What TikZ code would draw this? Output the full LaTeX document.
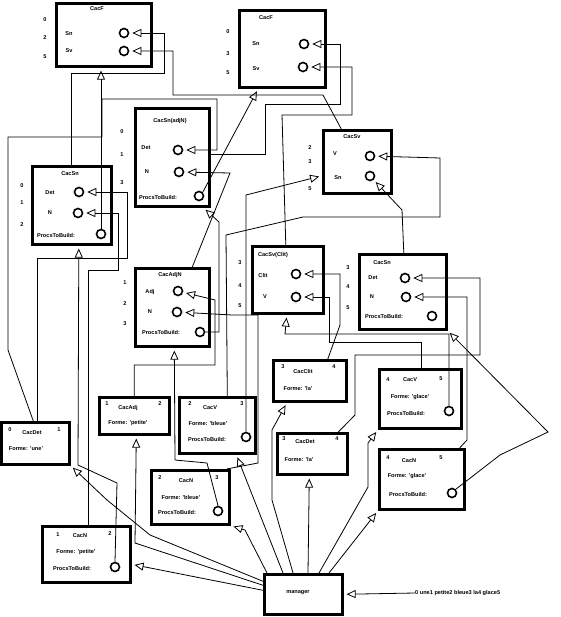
\documentclass[tikz,border=0pt]{standalone}
\usepackage{fontspec}
\setmainfont{Liberation Sans}
\usetikzlibrary{arrows.meta}
\newcommand{\cacfont}{\fontsize{5.6}{7}\selectfont\bfseries}
\tikzset{
  cacbox/.style={draw, line width=2.6pt, anchor=north west, inner sep=0pt},
  slot/.style={circle, draw, line width=1.6pt, minimum size=9pt, inner sep=0pt},
  lbl/.style={font=\cacfont, inner sep=0pt},
  feed/.style={-{Triangle[open,length=9pt,width=8pt,line width=0.8pt]}, shorten >=3pt, line width=0.8pt}
}
\begin{document}
\begin{tikzpicture}[x=1pt,y=-1pt]
\useasboundingbox (0,0) rectangle (560,617);

% CacF, first reading
\node[cacbox, minimum width=95pt, minimum height=63pt] (cfa) at (55,2) {};
\node[lbl] (cfa-t) at (97,9) {CacF};
\node[lbl] (cfa-r0) at (45,20) {0};
\node[lbl] (cfa-r1) at (45,38) {2};
\node[lbl] (cfa-r2) at (45,57) {5};
\node[lbl] (cfa-l1) at (69,34) {Sn};
\node[lbl] (cfa-l2) at (69,51) {Sv};
\node[slot] (cfa-sn) at (124,33) {};
\node[slot] (cfa-sv) at (124,51) {};

% CacF, second reading
\node[cacbox, minimum width=86pt, minimum height=77pt] (cfb) at (238,9) {};
\node[lbl] (cfb-t) at (266,18) {CacF};
\node[lbl] (cfb-r0) at (228,32) {0};
\node[lbl] (cfb-r1) at (228,54) {3};
\node[lbl] (cfb-r2) at (228,73) {5};
\node[lbl] (cfb-l1) at (256,44) {Sn};
\node[lbl] (cfb-l2) at (256,69) {Sv};
\node[slot] (cfb-sn) at (304,44) {};
\node[slot] (cfb-sv) at (303,67) {};

% CacSn(adjN)
\node[cacbox, minimum width=74pt, minimum height=98pt] (csnadj) at (134,107) {};
\node[lbl] (csnadj-t) at (170,121) {CacSn(adjN)};
\node[lbl] (csnadj-r0) at (122,132) {0};
\node[lbl] (csnadj-r1) at (122,155) {1};
\node[lbl] (csnadj-r2) at (122,183) {3};
\node[lbl] (csnadj-l1) at (146,148) {Det};
\node[lbl] (csnadj-l2) at (147,172) {N};
\node[lbl] (csnadj-l3) at (158,197) {ProcsToBuild:};
\node[slot] (csnadj-det) at (178,150) {};
\node[slot] (csnadj-n) at (179,172) {};
\node[slot] (csnadj-ptb) at (199,196) {};

% CacSv
\node[cacbox, minimum width=68pt, minimum height=63pt] (csv) at (322,129) {};
\node[lbl] (csv-t) at (352,137) {CacSv};
\node[lbl] (csv-r0) at (310,148) {2};
\node[lbl] (csv-r1) at (310,162) {3};
\node[lbl] (csv-r2) at (310,189) {5};
\node[lbl] (csv-l1) at (335,154) {V};
\node[lbl] (csv-l2) at (338,178) {Sn};
\node[slot] (csv-v) at (370,156) {};
\node[slot] (csv-sn) at (370,176) {};

% CacSn, first reading
\node[cacbox, minimum width=79pt, minimum height=78pt] (csnl) at (31,165) {};
\node[lbl] (csnl-t) at (70,174) {CacSn};
\node[lbl] (csnl-r0) at (22,186) {0};
\node[lbl] (csnl-r1) at (22,203) {1};
\node[lbl] (csnl-r2) at (22,225) {2};
\node[lbl] (csnl-l1) at (50,193) {Det};
\node[lbl] (csnl-l2) at (50,213) {N};
\node[lbl] (csnl-l3) at (56,235) {ProcsToBuild:};
\node[slot] (csnl-det) at (79,192) {};
\node[slot] (csnl-n) at (78,213) {};
\node[slot] (csnl-ptb) at (101,234) {};

% CacAdjN
\node[cacbox, minimum width=74pt, minimum height=78pt] (cadjn) at (134,267) {};
\node[lbl] (cadjn-t) at (170,275) {CacAdjN};
\node[lbl] (cadjn-r0) at (125,283) {1};
\node[lbl] (cadjn-r1) at (125,304) {2};
\node[lbl] (cadjn-r2) at (125,324) {3};
\node[lbl] (cadjn-l1) at (150,292) {Adj};
\node[lbl] (cadjn-l2) at (150,312) {N};
\node[lbl] (cadjn-l3) at (161,332) {ProcsToBuild:};
\node[slot] (cadjn-adj) at (178,291) {};
\node[slot] (cadjn-n) at (177,312) {};
\node[slot] (cadjn-ptb) at (200,332) {};

% CacSv(Clit)
\node[cacbox, minimum width=71pt, minimum height=67pt] (csvclit) at (251,245) {};
\node[lbl] (csvclit-t) at (273,255) {CacSv(Clit)};
\node[lbl] (csvclit-r0) at (240,263) {3};
\node[lbl] (csvclit-r1) at (240,286) {4};
\node[lbl] (csvclit-r2) at (240,306) {5};
\node[lbl] (csvclit-l1) at (263,275) {Clit};
\node[lbl] (csvclit-l2) at (265,297) {V};
\node[slot] (csvclit-clit) at (296,274) {};
\node[slot] (csvclit-v) at (296,297) {};

% CacSn, second reading
\node[cacbox, minimum width=87pt, minimum height=75pt] (csnr) at (358,253) {};
\node[lbl] (csnr-t) at (382,263) {CacSn};
\node[lbl] (csnr-r0) at (348,268) {3};
\node[lbl] (csnr-r1) at (348,287) {4};
\node[lbl] (csnr-r2) at (348,308) {5};
\node[lbl] (csnr-l1) at (373,278) {Det};
\node[lbl] (csnr-l2) at (372,297) {N};
\node[lbl] (csnr-l3) at (384,316) {ProcsToBuild:};
\node[slot] (csnr-det) at (405,278) {};
\node[slot] (csnr-n) at (406,297) {};
\node[slot] (csnr-ptb) at (432,316) {};

% words
\node[cacbox, minimum width=68pt, minimum height=42pt] (cdetune) at (0,421) {};
\node[lbl] (cdetune-a) at (10,430) {0};
\node[lbl] (cdetune-t) at (32,433) {CacDet};
\node[lbl] (cdetune-b) at (59,430) {1};
\node[lbl] (cdetune-f) at (26,449) {Forme: 'une'};

\node[cacbox, minimum width=70pt, minimum height=37pt] (cadj) at (98,396) {};
\node[lbl] (cadj-a) at (107,404) {1};
\node[lbl] (cadj-t) at (128,408) {CacAdj};
\node[lbl] (cadj-b) at (160,404) {2};
\node[lbl] (cadj-f) at (128,423) {Forme: 'petite'};

\node[cacbox, minimum width=76pt, minimum height=56pt] (cvbleue) at (178,396) {};
\node[lbl] (cvbleue-a) at (190,404) {2};
\node[lbl] (cvbleue-t) at (210,408) {CacV};
\node[lbl] (cvbleue-b) at (242,404) {3};
\node[lbl] (cvbleue-f) at (208,423) {Forme: 'bleue'};
\node[lbl] (cvbleue-l) at (207,439) {ProcsToBuild:};
\node[slot] (cvbleue-ptb) at (246,437) {};

\node[cacbox, minimum width=78pt, minimum height=54pt] (cnbleue) at (150,469) {};
\node[lbl] (cnbleue-a) at (160,478) {2};
\node[lbl] (cnbleue-t) at (186,481) {CacN};
\node[lbl] (cnbleue-b) at (217,478) {3};
\node[lbl] (cnbleue-f) at (181,497) {Forme: 'bleue'};
\node[lbl] (cnbleue-l) at (177,512) {ProcsToBuild:};
\node[slot] (cnbleue-ptb) at (218,511) {};

\node[cacbox, minimum width=73pt, minimum height=41pt] (cclit) at (272,359) {};
\node[lbl] (cclit-a) at (283,367) {3};
\node[lbl] (cclit-t) at (303,371) {CacClit};
\node[lbl] (cclit-b) at (334,367) {4};
\node[lbl] (cclit-f) at (298,388) {Forme: 'la'};

\node[cacbox, minimum width=70pt, minimum height=41pt] (cdetla) at (276,432) {};
\node[lbl] (cdetla-a) at (284,439) {3};
\node[lbl] (cdetla-t) at (305,442) {CacDet};
\node[lbl] (cdetla-b) at (337,439) {4};
\node[lbl] (cdetla-f) at (299,459) {Forme: 'la'};

\node[cacbox, minimum width=82pt, minimum height=59pt] (cvglace) at (378,368) {};
\node[lbl] (cvglace-a) at (388,380) {4};
\node[lbl] (cvglace-t) at (410,380) {CacV};
\node[lbl] (cvglace-b) at (441,379) {5};
\node[lbl] (cvglace-f) at (410,397) {Forme: 'glace'};
\node[lbl] (cvglace-l) at (406,413) {ProcsToBuild:};
\node[slot] (cvglace-ptb) at (449,411) {};

\node[cacbox, minimum width=85pt, minimum height=60pt] (cnglace) at (378,448) {};
\node[lbl] (cnglace-a) at (388,458) {4};
\node[lbl] (cnglace-t) at (409,461) {CacN};
\node[lbl] (cnglace-b) at (441,458) {5};
\node[lbl] (cnglace-f) at (407,476) {Forme: 'glace'};
\node[lbl] (cnglace-l) at (408,494) {ProcsToBuild:};
\node[slot] (cnglace-ptb) at (452,493) {};

\node[cacbox, minimum width=88pt, minimum height=56pt] (cnpetite) at (41,525) {};
\node[lbl] (cnpetite-a) at (58,535) {1};
\node[lbl] (cnpetite-t) at (80,536) {CacN};
\node[lbl] (cnpetite-b) at (110,534) {2};
\node[lbl] (cnpetite-f) at (76,552) {Forme: 'petite'};
\node[lbl] (cnpetite-l) at (72,568) {ProcsToBuild:};
\node[slot] (cnpetite-ptb) at (115,567) {};

% manager and input
\node[cacbox, minimum width=78pt, minimum height=40pt] (mgr) at (263,573) {};
\node[lbl] (mgr-t) at (298,593) {manager};
\node[lbl, anchor=west] (sent) at (415,593) {0 une1 petite2 bleue3 la4 glace5};

% slots filled
\draw[feed] (csnl.north) |- (164,73) |- (cfa-sn);
\draw[feed] ([xshift=-16pt]csv.north) -- (323,95) -| (173,51) -- (cfa-sv);
\draw[feed] ([yshift=-47pt]csnadj.north east) -| (265,104) -| (340,44) -- (cfb-sn);
\draw[feed] ([xshift=-2pt]csvclit.north) -- (282,115) -| (352,67) -- (cfb-sv);
\draw[feed] ([xshift=-2pt]cdetune.north) -- (8,350) |- (102,137) |- (217,99) |- (csnadj-det);
\draw[feed] ([xshift=20pt]cadjn.north) -- (230,173) -- (csnadj-n);
\draw[feed] ([xshift=2pt]cdetune.north) |- (127,258) |- (csnl-det);
\draw[feed] ([xshift=2pt]cnpetite.north) |- (118,270) |- (csnl-n);
\draw[feed] (cadj.north) |- (215,365) -- (215,300) -- (cadjn-adj);
\draw[feed] ([xshift=-4pt]cnbleue.north east) -- (258,463) |- (232,315) -- (cadjn-n);
\draw[feed] ([xshift=10pt]cvbleue.north) -- (226,235) -- (303,217) -| (440,158) -- (csv-v);
\draw[feed] ([xshift=1pt]csnr.north) -- (402,210) -- (csv-sn);
\draw[feed] ([xshift=18pt]cclit.north) -- (340,325) |- (csvclit-clit);
\draw[feed] ([xshift=1pt]cvglace.north) |- (329,342) |- (csvclit-v);
\draw[feed] ([xshift=26pt]cdetla.north) -- (355,415) |- (480,355) |- (csnr-det);
\draw[feed] ([xshift=-6pt]cnglace.north east) -- (467,440) |- (csnr-n);

% procs to build
\draw[feed] (csnl-ptb.north) -- (csnl-ptb.north |- cfa.south);
\draw[feed] (csnadj-ptb.north east) -- ([xshift=-24pt]cfb.south);
\draw[feed] (cadjn-ptb.east) -| (219,222) -- ([xshift=31pt]csnadj.south);
\draw[feed] (cnbleue-ptb.north) -- (207,463) -- (175,460) -- ([xshift=2pt]cadjn.south);
\draw[feed] (cnpetite-ptb.north) -- (117,483) -- (78,465) -- ([xshift=7pt]csnl.south);
\draw[feed] (cvbleue-ptb.north) -- (246,195) -- ([yshift=-14pt]csv.west);
\draw[feed] (cvglace-ptb.north) |- (285,334) -- ([xshift=-1pt]csvclit.south);
\draw[feed] (cnglace-ptb.north east) -- (500,455) -- (548,432) -- (csnr.south east);

% manager
\draw[feed] ([yshift=13pt]mgr.west) -- (150,535) -- (107,500) -- (cdetune.south east);
\draw[feed] ([yshift=9pt]mgr.west) -- (135,543) -- ([xshift=2pt]cadj.south);
\draw[feed] ([yshift=4pt]mgr.west) -- ([yshift=-10pt]cnpetite.east);
\draw[feed] ([xshift=4pt]mgr.north west) -- (245,530) -- (cnbleue.south east);
\draw[feed] ([xshift=20pt]mgr.north west) -- ([xshift=19pt]cvbleue.south);
\draw[feed] ([xshift=30pt]mgr.north west) -- (272,500) -- (272,430) -- ([xshift=15pt]cclit.south west);
\draw[feed] ([xshift=45pt]mgr.north west) -- ([xshift=-3pt]cdetla.south);
\draw[feed] ([xshift=56pt]mgr.north west) -- (368,487) -- (368,443) -- (cvglace.south west);
\draw[feed] ([xshift=66pt]mgr.north west) -- (cnglace.south west);
\draw[feed] (sent.west) -- (mgr.east);
\end{tikzpicture}
\end{document}
